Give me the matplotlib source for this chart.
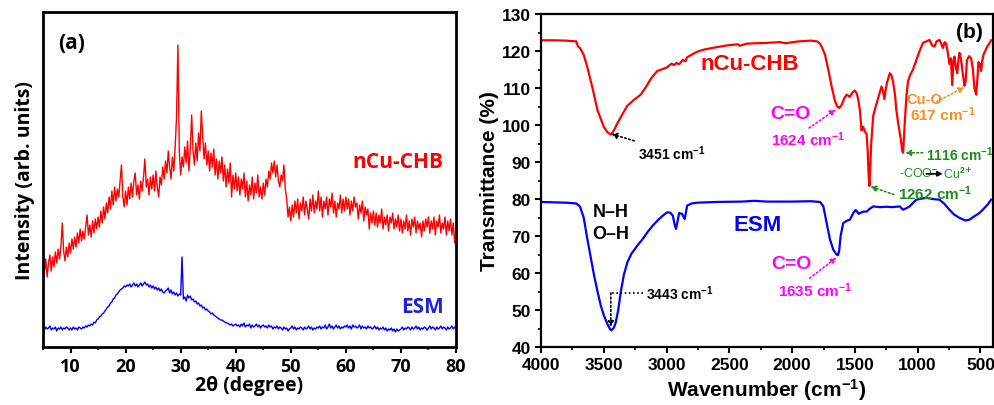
import numpy as np
import matplotlib
matplotlib.use('Agg')
import matplotlib.pyplot as plt
from matplotlib.ticker import MultipleLocator

plt.rcParams['mathtext.fontset'] = 'custom'
plt.rcParams['mathtext.rm'] = 'Liberation Sans'
plt.rcParams['mathtext.bf'] = 'Liberation Sans:bold'
plt.rcParams['mathtext.default'] = 'bf'

# ---- (a) XRD, 2theta from 5 to 80 in 0.25 steps ----
two_theta = np.arange(5.0, 80.001, 0.25)

xrd_ncu = [
    82, 74, 88, 70, 84, 92, 76, 90, 80, 95, 84, 98, 88, 100, 124, 96, 86, 100, 90, 104,
    94, 108, 98, 110, 100, 114, 104, 118, 106, 116, 108, 120, 132, 112, 122, 110, 126, 114, 128, 118,
    130, 120, 136, 124, 140, 128, 144, 134, 150, 138, 156, 142, 160, 146, 158, 150, 166, 182, 150, 140,
    156, 142, 160, 148, 164, 150, 166, 174, 152, 162, 148, 166, 156, 170, 188, 160, 168, 152, 170, 158,
    172, 156, 176, 160, 150, 170, 162, 180, 168, 186, 174, 196, 180, 168, 190, 176, 200, 230, 302, 196,
    172, 190, 180, 200, 184, 206, 176, 198, 232, 196, 182, 204, 186, 214, 196, 236, 210, 188, 204, 182,
    196, 176, 194, 180, 198, 172, 188, 168, 186, 174, 190, 166, 182, 160, 178, 164, 184, 150, 172, 158,
    174, 156, 170, 152, 168, 158, 174, 150, 166, 146, 162, 152, 170, 148, 164, 154, 172, 150, 160, 148,
    164, 152, 168, 160, 176, 168, 184, 174, 186, 170, 182, 166, 160, 172, 166, 182, 158, 148, 130, 140,
    126, 142, 130, 146, 134, 148, 128, 144, 136, 150, 132, 146, 138, 128, 148, 136, 152, 134, 146, 138,
    156, 136, 150, 130, 146, 138, 150, 132, 148, 140, 154, 134, 146, 130, 144, 138, 152, 134, 148, 136,
    150, 138, 148, 132, 146, 136, 150, 140, 144, 128, 142, 134, 146, 126, 140, 132, 138, 118, 134, 124,
    136, 122, 134, 120, 132, 124, 138, 118, 130, 122, 132, 116, 130, 124, 134, 118, 128, 120, 132, 116,
    128, 114, 126, 118, 132, 116, 126, 112, 128, 120, 130, 114, 126, 118, 124, 110, 126, 116, 128, 120,
    130, 114, 126, 118, 130, 112, 126, 120, 132, 114, 124, 118, 130, 112, 126, 116, 128, 112, 124, 104,
    118,
]

xrd_esm = [
    19, 17, 20, 18, 19, 21, 17, 19, 18, 20, 16, 19, 18, 20, 17, 19, 18, 20, 19, 17,
    19, 17, 20, 18, 19, 17, 20, 19, 18, 20, 19, 21, 20, 22, 21, 23, 22, 25, 24, 27,
    28, 30, 31, 33, 34, 36, 38, 40, 41, 44, 45, 48, 49, 52, 53, 55, 57, 58, 59, 61,
    60, 62, 61, 63, 60, 62, 64, 61, 63, 60, 62, 64, 61, 63, 65, 62, 63, 60, 62, 59,
    61, 58, 60, 57, 59, 56, 58, 55, 54, 56, 57, 59, 54, 57, 53, 55, 52, 54, 51, 53,
    52, 90, 48, 50, 46, 52, 49, 51, 47, 48, 45, 46, 43, 44, 41, 42, 39, 40, 37, 38,
    36, 35, 33, 34, 32, 31, 30, 29, 28, 27, 27, 26, 25, 24, 24, 23, 22, 23, 21, 22,
    23, 21, 22, 20, 23, 21, 24, 20, 22, 21, 23, 19, 22, 20, 21, 23, 20, 22, 19, 21,
    22, 20, 21, 19, 22, 20, 21, 18, 20, 19, 21, 18, 20, 19, 17, 20, 18, 19, 16, 18,
    19, 21, 18, 20, 17, 19, 18, 20, 19, 17, 20, 18, 19, 21, 18, 20, 17, 19, 18, 20,
    19, 21, 18, 20, 19, 22, 18, 20, 23, 19, 21, 18, 20, 22, 19, 21, 18, 20, 19, 21,
    20, 22, 19, 21, 18, 22, 20, 21, 19, 20, 22, 18, 21, 19, 20, 18, 21, 19, 20, 18,
    19, 21, 18, 20, 17, 19, 18, 20, 17, 19, 16, 18, 17, 19, 16, 18, 15, 18, 16, 17,
    18, 20, 17, 19, 18, 20, 19, 17, 20, 18, 19, 21, 18, 20, 17, 19, 18, 20, 19, 17,
    19, 21, 18, 20, 19, 17, 20, 18, 19, 21, 18, 20, 19, 17, 20, 18, 19, 21, 18, 20,
    19,
]

# ---- (b) FTIR ----
ftir_ncu_wn = [4000, 3900, 3800, 3720, 3705, 3690, 3660, 3630, 3590, 3550, 3500, 3470, 3444,
               3420, 3391, 3350, 3312, 3260, 3206, 3160, 3127, 3074, 3040, 2995, 2960, 2940,
               2920, 2900, 2870, 2850, 2836, 2800, 2757, 2700, 2624, 2500, 2430, 2420, 2360,
               2200, 2095, 2050, 1950, 1850, 1800, 1778, 1760, 1738, 1712, 1686, 1659, 1640,
               1624, 1606, 1585, 1566, 1540, 1520, 1500, 1485, 1474, 1460, 1447, 1434, 1420,
               1407, 1398, 1390, 1384, 1378, 1370, 1354, 1330, 1315, 1300, 1288, 1275, 1265,
               1255, 1244, 1222, 1210, 1196, 1180, 1170, 1155, 1143, 1130, 1122, 1116, 1104,
               1090, 1077, 1060, 1037, 1011, 990, 958, 930, 905, 885, 866, 850, 826, 810, 799,
               785, 773, 760, 747, 735, 725, 715, 707, 695, 685, 675, 667, 657, 648, 637, 627,
               617, 608, 590, 574, 560, 548, 540, 534, 525, 516, 505, 495, 485, 476, 460, 442,
               430, 415]
ftir_ncu_t = [122.9, 122.9, 122.8, 122.6, 121.2, 120.8, 119, 115.5, 110, 104, 99.5, 98, 97.4,
              98.5, 100.5, 103, 105.2, 106.8, 108.2, 110.5, 112.4, 114.6, 115, 115.6, 116.6, 116.2,
              116.8, 116.4, 117.6, 117.2, 118.3, 119, 119.8, 120.4, 120.9, 121.6, 121.8, 121.4, 122,
              122.2, 122.4, 122.1, 122.6, 122.8, 122.6, 122, 120.8, 119, 115, 110.5, 106.5, 105,
              104.6, 105.4, 107.2, 108.2, 107.6, 108.8, 109.3, 108.5, 107, 104, 98.5, 99.5, 98.2,
              97.6, 93, 86, 83.5, 88, 95, 102.5, 105.5, 107.2, 109, 110.4, 109, 107,
              109.5, 111.5, 114, 113.5, 111.8, 108, 104, 100.5, 98, 95, 92.8, 92.5, 100,
              107.5, 111.8, 113.5, 115, 117.5, 119.5, 122.2, 122.6, 123, 121.5, 121.2, 122.6, 123, 121.8, 120.8,
              122.4, 122, 119.5, 116.5, 118, 110.8, 117.5, 118.5, 115.5, 114, 117.6, 119.5, 118.2, 116, 113, 110.6,
              112, 117.5, 118.6, 118, 115, 110, 109, 108.2, 112, 117, 116.5, 114.6, 117.5, 119, 120.2, 121.4,
              122, 122.9]

ftir_esm_wn = [4000, 3900, 3800, 3720, 3690, 3660, 3630, 3600, 3577, 3550, 3524, 3500, 3471,
               3450, 3439, 3420, 3405, 3385, 3365, 3340, 3312, 3280, 3233, 3190, 3153, 3110,
               3074, 3030, 2995, 2970, 2950, 2935, 2925, 2915, 2900, 2877, 2865, 2855, 2845,
               2836, 2800, 2757, 2600, 2400, 2300, 2200, 2000, 1850, 1778, 1751, 1725, 1698,
               1672, 1646, 1635, 1625, 1614, 1593, 1560, 1540, 1513, 1495, 1487, 1470, 1460,
               1430, 1407, 1380, 1354, 1300, 1249, 1200, 1143, 1117, 1090, 1064, 1030, 1011,
               970, 931, 880, 826, 790, 747, 710, 667, 620, 588, 550, 508, 470, 440, 415]
ftir_esm_t = [79.2, 79.1, 79, 78.8, 78, 75, 69, 63.5, 59.3, 55, 51.2, 48.6, 46.2,
              44.8, 44.5, 45.2, 46.6, 50, 54.8, 59.5, 62.9, 65.2, 67.4, 69.2, 71, 72.8,
              74.1, 75.5, 76.4, 76.3, 75.5, 73, 71.9, 73.5, 76.2, 76, 75.2, 74.6, 76.5,
              78.2, 78.8, 79, 79.2, 79.3, 79.5, 79.3, 79.3, 79.4, 79.2, 78, 73.5, 69,
              66.3, 65, 64.8, 66, 69.9, 73.5, 74.2, 74.4, 76.2, 77, 76.8, 76, 76.2,
              76.6, 76.6, 77.4, 78, 77.8, 77.9, 77.8, 78, 77.1, 77.5, 78, 79.2, 79.8,
              80.1, 80.3, 80, 79.8, 78.8, 77.1, 75.8, 74.9, 74.2, 74.4, 75.3, 76.2, 77.5, 78.6, 79.8]

RED = '#ff0000'
BLUE = '#0000ff'
MAGENTA = '#ff00ff'
GREEN = '#1e8c1e'
ORANGE = '#ff8c1a'

fig = plt.figure(figsize=(9.94, 4.06), dpi=100)

# ---------- panel (a) ----------
fa = 'Open Sans'
ax1 = fig.add_axes([43 / 994, 58 / 406, 413 / 994, 335 / 406])
ax1.plot(two_theta, xrd_ncu, color=RED, lw=1.0)
ax1.plot(two_theta, xrd_esm, color=BLUE, lw=1.0)
ax1.set_xlim(5, 80)
ax1.set_ylim(0, 335)
ax1.set_yticks([])
ax1.xaxis.set_major_locator(MultipleLocator(10))
ax1.xaxis.set_minor_locator(MultipleLocator(5))
ax1.tick_params(axis='x', which='major', direction='out', length=4, width=1.5)
ax1.tick_params(axis='x', which='minor', direction='out', length=2.5, width=1.2)
for lab in ax1.get_xticklabels():
    lab.set_fontfamily(fa)
    lab.set_fontweight('bold')
    lab.set_fontsize(13)
for s in ax1.spines.values():
    s.set_linewidth(2)
ax1.set_xlabel('2θ (degree)', fontfamily=fa, fontweight='bold', fontsize=14, labelpad=0)
ax1.set_ylabel('Intensity (arb. units)', fontfamily=fa, fontweight='bold', fontsize=14, labelpad=6)
ax1.text(0.07, 0.91, '(a)', transform=ax1.transAxes, ha='center', va='center',
         fontfamily=fa, fontweight='bold', fontsize=15)
ax1.text(0.86, 0.555, 'nCu-CHB', transform=ax1.transAxes, ha='center', va='center',
         color=RED, fontfamily=fa, fontweight='bold', fontsize=15)
ax1.text(0.92, 0.122, 'ESM', transform=ax1.transAxes, ha='center', va='center',
         color='#2020e0', fontfamily=fa, fontweight='bold', fontsize=15)

# ---------- panel (b) ----------
fb = 'Liberation Sans'
ax2 = fig.add_axes([541 / 994, 58 / 406, 452 / 994, 333 / 406])
ax2.plot(ftir_ncu_wn, ftir_ncu_t, color=RED, lw=1.6)
ax2.plot(ftir_esm_wn, ftir_esm_t, color=BLUE, lw=1.6)
ax2.set_xlim(4000, 400)
ax2.set_ylim(40, 130)
ax2.xaxis.set_major_locator(MultipleLocator(500))
ax2.xaxis.set_minor_locator(MultipleLocator(250))
ax2.yaxis.set_major_locator(MultipleLocator(10))
ax2.yaxis.set_minor_locator(MultipleLocator(5))
ax2.tick_params(which='major', direction='out', length=4, width=1.5)
ax2.tick_params(which='minor', direction='out', length=2.5, width=1.2)
for lab in ax2.get_xticklabels() + ax2.get_yticklabels():
    lab.set_fontfamily(fb)
    lab.set_fontweight('bold')
    lab.set_fontsize(12.5)
for s in ax2.spines.values():
    s.set_linewidth(1.6)
ax2.set_xlabel('Wavenumber (cm$^{-1}$)', fontfamily=fb, fontweight='bold', fontsize=15, labelpad=3)
ax2.set_ylabel('Transmittance (%)', fontfamily=fb, fontweight='bold', fontsize=15, labelpad=2)

ax2.text(2333, 116.5, 'nCu-CHB', color=RED, ha='center', va='center',
         fontfamily=fb, fontweight='bold', fontsize=16)
ax2.text(2278, 73.2, 'ESM', color=BLUE, ha='center', va='center',
         fontfamily=fb, fontweight='bold', fontsize=16)
ax2.text(587, 125.3, '(b)', ha='center', va='center', fontfamily=fb, fontweight='bold', fontsize=15)
ax2.text(3444, 76.6, 'N–H', ha='center', va='center', fontfamily=fb, fontweight='bold', fontsize=13)
ax2.text(3444, 70.8, 'O–H', ha='center', va='center', fontfamily=fb, fontweight='bold', fontsize=13)

dot = dict(arrowstyle='-|>', linestyle=(0, (1, 1.5)), lw=1.2, mutation_scale=8)

# 3451
ax2.annotate('3451 cm$^{-1}$', xy=(3440, 97.6), xytext=(3225, 92.6), ha='left', va='center',
             fontfamily=fb, fontweight='bold', fontsize=10,
             arrowprops=dict(dot, color='black', shrinkA=1, shrinkB=0))
# 3443
ax2.text(3165, 54.8, '3443 cm$^{-1}$', ha='left', va='center',
         fontfamily=fb, fontweight='bold', fontsize=10)
ax2.plot([3190, 3444], [54.6, 54.6], color='black', lw=1.2, ls=(0, (1, 1.5)))
ax2.annotate('', xy=(3444, 45.4), xytext=(3444, 54.6),
             arrowprops=dict(dot, color='black', shrinkA=0, shrinkB=0))

# C=O nCu-CHB
ax2.text(2016, 103, 'C=O', color=MAGENTA, ha='center', va='center',
         fontfamily=fb, fontweight='bold', fontsize=14)
ax2.text(1873, 96.2, '1624 cm$^{-1}$', color=MAGENTA, ha='center', va='center',
         fontfamily=fb, fontweight='bold', fontsize=11)
ax2.annotate('', xy=(1652, 104.2), xytext=(1865, 99.2),
             arrowprops=dict(dot, color=MAGENTA, shrinkA=0, shrinkB=0))
# C=O ESM
ax2.text(2003, 62.6, 'C=O', color=MAGENTA, ha='center', va='center',
         fontfamily=fb, fontweight='bold', fontsize=14)
ax2.text(1820, 55.4, '1635 cm$^{-1}$', color=MAGENTA, ha='center', va='center',
         fontfamily=fb, fontweight='bold', fontsize=11)
ax2.annotate('', xy=(1645, 64.2), xytext=(1860, 58.6),
             arrowprops=dict(dot, color=MAGENTA, shrinkA=0, shrinkB=0))

# Cu-O
ax2.text(946, 107, 'Cu-O', color=ORANGE, ha='center', va='center',
         fontfamily=fb, fontweight='bold', fontsize=10.5)
ax2.text(802, 103, '617 cm$^{-1}$', color=ORANGE, ha='center', va='center',
         fontfamily=fb, fontweight='bold', fontsize=11)
ax2.annotate('', xy=(627, 110.2), xytext=(850, 106.3),
             arrowprops=dict(dot, color=ORANGE, shrinkA=0, shrinkB=0))

# 1116 / 1262 and -COO- -> Cu2+
ax2.text(930, 92.2, '1116 cm$^{-1}$', color=GREEN, ha='left', va='center',
         fontfamily=fb, fontweight='bold', fontsize=10)
ax2.annotate('', xy=(1100, 92.5), xytext=(960, 92.5),
             arrowprops=dict(dot, color=GREEN, shrinkA=0, shrinkB=0))
ax2.text(1159, 81.8, '1262 cm$^{-1}$', color=GREEN, ha='left', va='center',
         fontfamily=fb, fontweight='bold', fontsize=11)
ax2.annotate('', xy=(1378, 83.4), xytext=(1190, 81.2),
             arrowprops=dict(dot, color=GREEN, shrinkA=0, shrinkB=0))
ax2.text(1150, 86.8, '-COO$^{-}$', color=GREEN, ha='left', va='center',
         fontfamily=fb, fontsize=9)
ax2.annotate('', xy=(800, 86.8), xytext=(930, 86.8),
             arrowprops=dict(arrowstyle='-|>', color='black', lw=1.3, mutation_scale=7,
                             shrinkA=0, shrinkB=0))
ax2.text(795, 86.8, 'Cu$^{2+}$', color=GREEN, ha='left', va='center',
         fontfamily=fb, fontsize=9)

fig.savefig('out.png', dpi=100)
